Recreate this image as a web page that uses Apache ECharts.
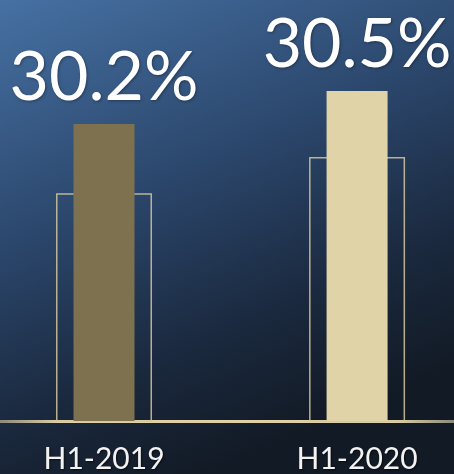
<!DOCTYPE html>
<html>
<head>
<meta charset="utf-8">
<script src="https://cdn.jsdelivr.net/npm/echarts@6/dist/echarts.min.js"></script>
<style>html,body{margin:0;padding:0;background:#1a2a40;}#c{width:454px;height:474px;}</style>
</head>
<body>
<div id="c"></div>
<script>
const categories = ['H1-2019', 'H1-2020'];
const ratioValues = [30.2, 30.5];
const compareValues = [29.57, 29.9];
const valueLabels = ['30.2%', '30.5%'];

const fillColors = ['#7e7150', '#e0d3a8'];
const fontFam = 'Lato, "Open Sans", sans-serif';

const ratioData = ratioValues.map(function (v, i) { return [i, v]; });
const compareData = compareValues.map(function (v, i) { return [i, v]; });
const xMin = -0.411, xMax = 1.383;

const chart = echarts.init(document.getElementById('c'), null, {renderer: 'canvas'});
chart.setOption({
  animation: false,
  backgroundColor: {
    type: 'linear', x: 0, y: 0, x2: 0.45, y2: 1,
    colorStops: [
      {offset: 0, color: '#4671a3'},
      {offset: 0.45, color: '#2b466b'},
      {offset: 0.75, color: '#1b2a40'},
      {offset: 1, color: '#121a25'}
    ]
  },
  grid: {left: 0, right: 0, top: 36, bottom: 53},
  xAxis: [
    {
      type: 'value', min: xMin, max: xMax,
      splitLine: {show: false},
      axisTick: {show: false},
      axisLine: {
        show: true,
        lineStyle: {
          width: 3,
          color: {
            type: 'linear', x: 0, y: 0, x2: 454, y2: 0, global: true,
            colorStops: [
              {offset: 0, color: '#8c8a7c'},
              {offset: 0.13, color: '#ded0a4'},
              {offset: 0.87, color: '#ded0a4'},
              {offset: 1, color: '#8c8a7c'}
            ]
          }
        }
      },
      axisLabel: {
        customValues: [0, 1],
        formatter: function (v) { return categories[Math.round(v)]; },
        color: '#f2f2f2', fontSize: 30, fontFamily: fontFam, margin: 23,
        textShadowColor: 'rgba(0,0,0,0.6)', textShadowBlur: 2, textShadowOffsetX: 1, textShadowOffsetY: 1
      }
    },
    {
      type: 'value', min: xMin, max: xMax, show: false, splitLine: {show: false}
    }
  ],
  yAxis: {type: 'value', min: 27.5, max: 31, show: false, splitLine: {show: false}},
  series: [
    {
      type: 'bar', xAxisIndex: 1, data: compareData, barWidth: 96, z: 1,
      itemStyle: {color: 'rgba(0,0,0,0)', borderColor: 'rgba(214,200,160,0.85)', borderWidth: 1.5}
    },
    {
      type: 'bar', xAxisIndex: 0, data: ratioData, barWidth: 61, z: 2,
      itemStyle: {color: function (p) { return fillColors[p.dataIndex]; }},
      label: {
        show: true, position: 'top', distance: 12,
        color: '#ffffff', fontSize: 68, fontFamily: fontFam,
        formatter: function (p) { return valueLabels[p.dataIndex]; },
        textShadowColor: 'rgba(0,0,0,0.35)', textShadowBlur: 3, textShadowOffsetX: 1, textShadowOffsetY: 1
      }
    }
  ]
});
</script>
</body>
</html>
